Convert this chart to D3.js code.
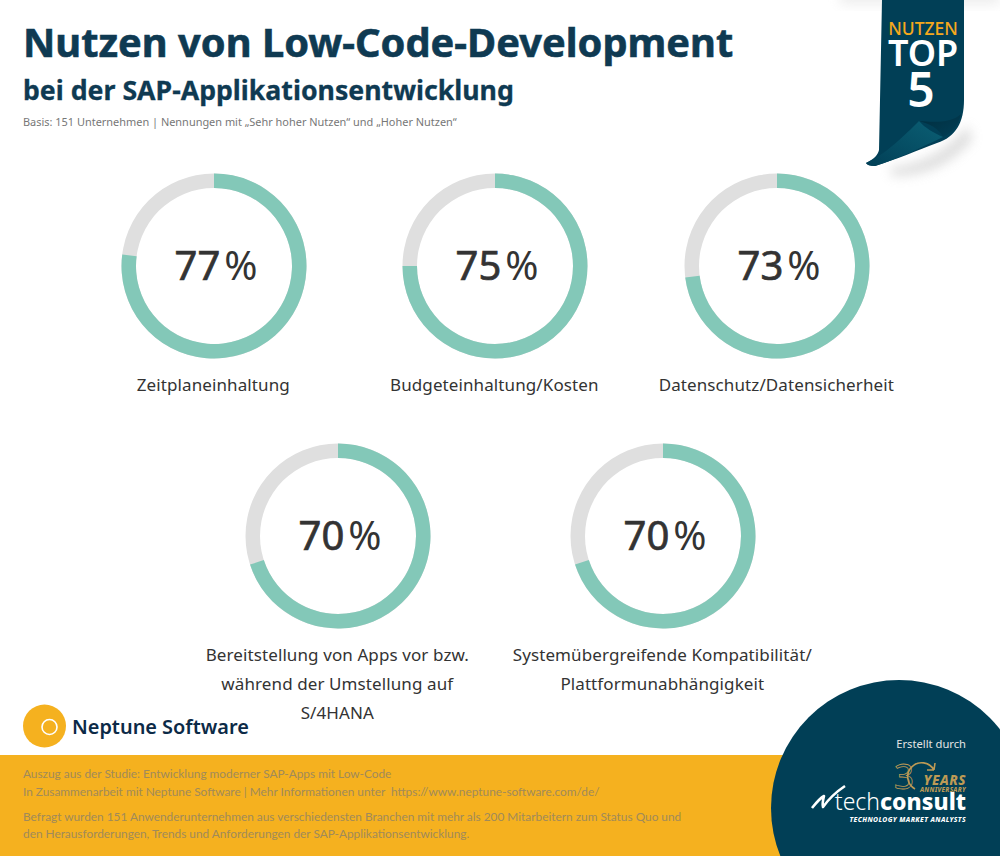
<!DOCTYPE html>
<html>
<head>
<meta charset="utf-8">
<script src="https://cdnjs.cloudflare.com/ajax/libs/d3/7.8.5/d3.min.js"></script>
<style>
html,body{margin:0;padding:0;background:#fff;}
svg{display:block;}
text{font-family:"Noto Sans",sans-serif;white-space:pre;}
</style>
</head>
<body>
<div id="chart"></div>
<script>
// values
var categories = ["Zeitplaneinhaltung","Budgeteinhaltung/Kosten","Datenschutz/Datensicherheit",
                  "Bereitstellung von Apps vor bzw.|während der Umstellung auf|S/4HANA",
                  "Systemübergreifende Kompatibilität/|Plattformunabhängigkeit"];
var values = [77,75,73,70,70];
var footerLines = ["Auszug aus der Studie: Entwicklung moderner SAP-Apps mit Low-Code",
                   "In Zusammenarbeit mit Neptune Software | Mehr Informationen unter  https://www.neptune-software.com/de/",
                   "Befragt wurden 151 Anwenderunternehmen aus verschiedensten Branchen mit mehr als 200 Mitarbeitern zum Status Quo und",
                   "den Herausforderungen, Trends und Anforderungen der SAP-Applikationsentwicklung."];

var width = 1000, height = 856;
var navy = "#0f3a52", teal = "#013f56", green = "#83c8b8", grey = "#dfdfdf", yellow = "#f5b11f", gold = "#bd9a55";

var svg = d3.select("#chart").append("svg").attr("width", width).attr("height", height);

// footer band
svg.append("rect").attr("x",0).attr("y",755).attr("width",width).attr("height",101).attr("fill",yellow);
var footerY = [778,796,820.5,838];
svg.selectAll(".foot").data(footerLines).enter().append("text")
   .attr("class","foot").attr("x",23).attr("y",function(d,i){return footerY[i];})
   .attr("font-size",11.85).style("font-family","Lato").attr("fill","#a08a5a").text(function(d){return d;});

// titles
svg.append("text").attr("x",23).attr("y",57).attr("font-size",39.8).attr("font-weight",700)
   .attr("fill",navy).attr("stroke",navy).attr("stroke-width",0.6).text("Nutzen von Low-Code-Development");
svg.append("text").attr("x",23).attr("y",100).attr("font-size",26.7).attr("font-weight",700)
   .attr("fill",navy).attr("stroke",navy).attr("stroke-width",0.3).text("bei der SAP-Applikationsentwicklung");
svg.append("text").attr("x",23).attr("y",126).attr("font-size",10.95).attr("fill","#777777")
   .text("Basis: 151 Unternehmen | Nennungen mit „Sehr hoher Nutzen“ und „Hoher Nutzen“");

// donuts
var centers = [[214,266],[495,266],[777,266],[338,536],[663,536]];
var arc = d3.arc().innerRadius(78).outerRadius(92.5);
var angle = d3.scaleLinear().domain([0,100]).range([0,2*Math.PI]);

values.forEach(function(v,i){
    var g = svg.append("g").attr("transform","translate("+centers[i][0]+","+centers[i][1]+")");
    g.append("path").attr("fill",grey).attr("d",arc({startAngle:0,endAngle:2*Math.PI}));
    g.append("path").attr("fill",green).attr("d",arc({startAngle:0,endAngle:angle(v)}));

    var t = g.append("text").attr("text-anchor","middle").attr("x",2).attr("y",14).attr("fill","#333333");
    t.append("tspan").attr("font-size",40).attr("stroke","#333333").attr("stroke-width",0.7).text(v);
    t.append("tspan").attr("font-size",40).attr("dx",4).text("%");

    categories[i].split("|").forEach(function(line,k){
        g.append("text").attr("text-anchor","middle").attr("x",-0.7).attr("y",125+k*29)
         .attr("font-size",17).attr("letter-spacing",0.1).attr("fill","#333333").text(line);
    });
});

// ribbon top right
var defs = svg.append("defs");
var blur = defs.append("filter").attr("id","soft").attr("x","-50%").attr("y","-50%").attr("width","200%").attr("height","200%");
blur.append("feGaussianBlur").attr("stdDeviation",6);
var curl = defs.append("linearGradient").attr("id","curl").attr("x1","0").attr("y1","1").attr("x2","1").attr("y2","0");
curl.append("stop").attr("offset","0").attr("stop-color","#013f56");
curl.append("stop").attr("offset","1").attr("stop-color","#0b5f74");
var fold = defs.append("linearGradient").attr("id","fold").attr("x1","0").attr("y1","0").attr("x2","1").attr("y2","1");
fold.append("stop").attr("offset","0").attr("stop-color","#012a3a");
fold.append("stop").attr("offset","1").attr("stop-color","#013f56");

svg.append("rect").attr("x",840).attr("y",-10).attr("width",160).attr("height",14).attr("fill","#cccccc")
   .attr("opacity",0.35).attr("filter","url(#soft)");
svg.append("path").attr("d","M890,168 C915,165 945,155 968,125 L972,140 C950,165 925,176 892,176 Z")
   .attr("fill","#aaaaaa").attr("opacity",0.4).attr("filter","url(#soft)");
svg.append("path").attr("fill",teal)
   .attr("d","M882,0 L964,0 L964,100 C964,122 956,137 937,143 C918,150 895,160 875,166 C870,166 867,165 866,163 C874,159 878,155 879,150 Z");
svg.append("path").attr("fill","url(#fold)").attr("opacity",0.85)
   .attr("d","M919,121 C930,124 938,128 943,137 C951,133 958,127 961,114 C950,124 932,122 919,121 Z");
svg.append("path").attr("fill","url(#curl)")
   .attr("d","M919,121 C925,128 934,133 943,137 C920,148 895,160 875,166 C870,166 867,165 866,163 C885,155 905,135 919,121 Z");

svg.append("text").attr("x",923).attr("y",35).attr("text-anchor","middle").attr("font-size",17.5)
   .attr("font-weight",500).attr("fill","#f5a81c").text("NUTZEN");
svg.append("text").attr("x",923).attr("y",66).attr("text-anchor","middle").attr("font-size",36)
   .attr("font-weight",600).attr("fill","#fff").text("TOP");
svg.append("text").attr("x",921).attr("y",107).attr("text-anchor","middle").attr("font-size",48)
   .attr("font-weight",600).attr("fill","#fff").text("5");

// neptune logo
svg.append("circle").attr("cx",44.5).attr("cy",726).attr("r",21.5).attr("fill",yellow);
svg.append("circle").attr("cx",49.5).attr("cy",727).attr("r",7.5).attr("fill","none").attr("stroke","#fff").attr("stroke-width",1.6);
svg.append("text").attr("x",72).attr("y",734).attr("font-size",19.9).attr("font-weight",600)
   .attr("fill","#0c2a47").text("Neptune Software");

// techconsult badge
svg.append("circle").attr("cx",899).attr("cy",808).attr("r",128).attr("fill",teal);
svg.append("text").attr("x",966).attr("y",748).attr("text-anchor","end").attr("font-size",11.2)
   .attr("fill","#e4e4e4").text("Erstellt durch");
// 30 years mark
svg.append("text").attr("x",894).attr("y",789).attr("font-size",35).attr("fill","none")
   .attr("stroke",gold).attr("stroke-width",0.8).text("3");
svg.append("path").attr("fill","none").attr("stroke",gold).attr("stroke-width",1.6)
   .attr("d","M915,789 A14,14 0 1 1 934,770 M934,770 L935,763 M934,770 L927,770");
svg.append("text").attr("x",966).attr("y",785).attr("text-anchor","end").attr("font-size",13.5)
   .attr("font-weight",800).attr("font-style","italic").attr("letter-spacing",0.5).attr("fill",gold).text("YEARS");
svg.append("text").attr("x",966).attr("y",791.5).attr("text-anchor","end").attr("font-size",6.3)
   .attr("font-weight",800).attr("font-style","italic").attr("letter-spacing",0.3).attr("fill",gold).text("ANNIVERSARY");
// check mark
svg.append("path").attr("fill","none").attr("stroke","#fff").attr("stroke-width",2.6).attr("stroke-linejoin","round")
   .attr("d","M812,808 C816,803 820,798 824,796 C823,800 822,804 823,807 C828,800 836,792 845,786");
var tc = svg.append("text").attr("x",966).attr("y",810).attr("text-anchor","end").attr("font-size",23).attr("fill","#fff");
tc.append("tspan").attr("font-weight",300).text("tech");
tc.append("tspan").attr("font-weight",800).text("consult");
svg.append("text").attr("x",966).attr("y",822).attr("text-anchor","end").attr("font-size",6.8)
   .attr("font-weight",800).attr("font-style","italic").attr("letter-spacing",0.4).attr("fill","#fff").text("TECHNOLOGY MARKET ANALYSTS");
</script>
</body>
</html>
